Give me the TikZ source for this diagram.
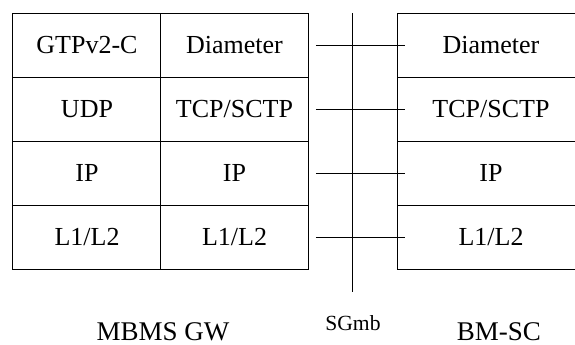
\documentclass[tikz,border=0pt]{standalone}
\usepackage{fontspec}
\setmainfont{Liberation Serif}
\usetikzlibrary{calc}
\tikzset{
    cell/.style={draw, rectangle, line width=0.5pt, minimum height=32pt, inner sep=0pt, font=\fontsize{13}{15}\selectfont},
    leftcell/.style={cell, minimum width=74pt},
    rightcell/.style={cell, minimum width=93pt},
    link/.style={line width=0.5pt},
    entity/.style={font=\fontsize{13.5}{16}\selectfont}
}
\begin{document}
\begin{tikzpicture}[x=0.5pt, y=-0.5pt]
    \clip (0,0) rectangle (575,344);

        % Define nodes in the first column (MBMS GW, left)
        \node[leftcell] (A1) at (87,45) {GTPv2-C};
        \node[leftcell] (A2) at (87,109) {UDP};
        \node[leftcell] (A3) at (87,173) {IP};
        \node[leftcell] (A4) at (87,237) {L1/L2};

        % Define nodes in the second column (MBMS GW, right)
        \node[leftcell] (B1) at (234.5,45) {Diameter};
        \node[leftcell] (B2) at (234.5,109) {TCP/SCTP};
        \node[leftcell] (B3) at (234.5,173) {IP};
        \node[leftcell] (B4) at (234.5,237) {L1/L2};

        % Define nodes in the third column (BM-SC)
        \node[rightcell] (C1) at (491,45) {Diameter};
        \node[rightcell] (C2) at (491,109) {TCP/SCTP};
        \node[rightcell] (C3) at (491,173) {IP};
        \node[rightcell] (C4) at (491,237) {L1/L2};

        % Reference point line
        \coordinate (Stop) at (353,13);
        \coordinate (Sbot) at (353,292);
        \draw[link] (Stop) -- (Sbot);

        % Draw lines connecting the peer layers
        \draw[link] ($(B1.east)+(7,0)$) -- ($(C1.west)+(8,0)$);
        \draw[link] ($(B2.east)+(7,0)$) -- ($(C2.west)+(8,0)$);
        \draw[link] ($(B3.east)+(7,0)$) -- ($(C3.west)+(8,0)$);
        \draw[link] ($(B4.east)+(7,0)$) -- ($(C4.west)+(8,0)$);

        % Labels
        \node[entity] (L1) at (163,332) {MBMS GW};
        \node[font=\fontsize{10.8}{13}\selectfont] (L2) at (353,323) {SGmb};
        \node[entity] (L3) at (499,332) {BM-SC};

\end{tikzpicture}
\end{document}
